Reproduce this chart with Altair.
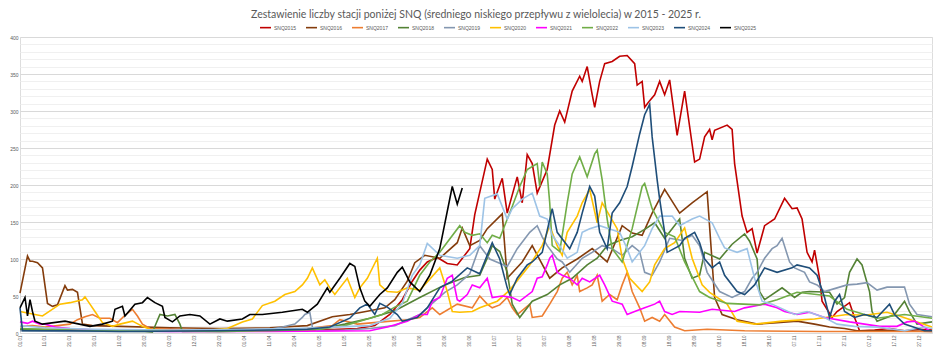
import altair as alt
import pandas as pd

series_names = ["SNQ2015", "SNQ2016", "SNQ2017", "SNQ2018", "SNQ2019", "SNQ2020",
                "SNQ2021", "SNQ2022", "SNQ2023", "SNQ2024", "SNQ2025"]
series_colors = ["#C00000", "#843C0C", "#ED7D31", "#548235", "#8497B0", "#FFC000",
                 "#FF00FF", "#70AD47", "#9DC3E6", "#1F4E79", "#000000"]

# (day of year, number of stations)
s2015 = [(0,4),(15,5),(30,3),(45,4),(60,5),(75,3),(90,4),(105,5),(120,4),(135,6),(142,10),(148,25),(153,45),(157,70),(160,85),(163,96),(167,102),(171,94),(175,92),(180,114),(182,160),(184,190),(187,235),(189,221),(190,181),(193,209),(195,162),(199,211),(201,176),(203,241),(205,229),(207,189),(211,221),(214,281),(216,300),(218,285),(221,327),(224,347),(225,340),(227,360),(229,322),(230,305),(232,340),(234,364),(237,367),(240,374),(243,375),(246,364),(247,335),(249,340),(250,305),(252,314),(254,322),(256,340),(258,322),(260,342),(263,267),(266,327),(270,231),(272,235),(274,265),(276,275),(277,261),(278,274),(283,281),(285,275),(286,229),(289,158),(291,136),(293,141),(295,108),(298,145),(302,154),(306,182),(309,168),(311,169),(313,154),(315,109),(317,96),(318,112),(320,74),(321,43),(325,21),(327,29),(332,41),(334,21),(336,3),(342,4),(348,6),(354,3),(360,5),(365,4)]
s2016 = [(0,54),(3,104),(4,97),(5,97),(7,95),(9,88),(11,40),(13,36),(15,38),(18,64),(19,58),(21,59),(23,55),(25,12),(29,10),(40,9),(60,7),(80,6),(100,7),(115,10),(125,22),(132,25),(140,30),(146,34),(150,45),(155,70),(158,95),(162,105),(168,101),(175,122),(177,142),(180,118),(184,125),(187,141),(193,161),(195,74),(201,96),(205,118),(212,74),(217,88),(223,100),(229,114),(235,96),(241,145),(245,135),(249,132),(253,162),(258,194),(264,162),(269,176),(275,191),(278,48),(281,25),(287,18),(295,12),(303,14),(311,16),(318,12),(324,8),(330,6),(335,3),(350,3),(365,2)]
s2017 = [(0,9),(5,10),(10,8),(15,10),(20,12),(23,18),(26,22),(29,25),(32,20),(36,20),(39,14),(42,24),(45,32),(47,23),(49,12),(52,6),(60,5),(80,4),(100,5),(115,6),(125,10),(128,18),(135,12),(145,15),(155,18),(160,21),(165,34),(168,25),(175,39),(181,34),(184,50),(187,39),(189,34),(192,38),(195,48),(197,34),(199,25),(204,39),(205,21),(209,23),(212,39),(215,56),(217,74),(219,82),(221,65),(223,78),(224,56),(227,61),(229,65),(231,78),(233,43),(236,52),(239,45),(241,65),(243,82),(245,56),(248,34),(250,16),(253,21),(256,16),(258,25),(262,8),(266,3),(275,5),(290,3),(320,2),(365,2)]
s2018 = [(0,5),(15,4),(30,3),(50,2),(53,1),(56,25),(59,23),(62,25),(64,12),(65,2),(80,2),(100,3),(120,5),(130,12),(140,20),(150,30),(160,48),(170,65),(178,75),(184,78),(187,101),(189,118),(192,110),(195,82),(197,39),(200,21),(205,43),(211,52),(216,65),(221,74),(227,92),(231,101),(235,118),(240,125),(245,130),(250,140),(254,149),(258,128),(261,141),(264,154),(266,101),(269,74),(272,78),(274,109),(280,100),(285,120),(290,134),(292,124),(295,100),(296,56),(298,45),(305,61),(310,48),(313,55),(316,56),(324,55),(327,39),(330,48),(332,82),(335,100),(337,92),(340,56),(341,29),(343,16),(350,25),(354,43),(356,29),(359,12),(365,15)]
s2019 = [(0,3),(20,2),(60,2),(90,3),(100,5),(105,8),(110,12),(113,21),(114,25),(116,28),(117,8),(119,3),(130,4),(140,6),(150,10),(160,25),(165,40),(170,55),(175,65),(180,80),(184,118),(188,100),(195,90),(199,114),(204,136),(207,145),(209,130),(211,118),(215,100),(217,96),(220,82),(225,101),(229,109),(233,118),(237,114),(241,105),(245,118),(248,110),(250,82),(253,78),(256,96),(260,128),(265,125),(269,132),(272,118),(275,82),(280,56),(285,48),(290,56),(293,74),(295,82),(298,101),(301,114),(303,118),(305,128),(308,96),(310,88),(314,82),(316,69),(319,65),(322,56),(327,61),(331,65),(335,66),(339,68),(343,58),(347,62),(354,62),(356,39),(359,25),(363,23),(365,22)]
s2020 = [(0,29),(6,25),(9,23),(16,39),(20,41),(25,45),(26,49),(28,39),(30,29),(33,14),(37,9),(40,12),(45,16),(49,9),(52,5),(61,3),(73,3),(83,6),(89,15),(93,19),(97,37),(102,43),(106,52),(110,56),(113,65),(115,74),(117,88),(120,65),(122,72),(124,61),(126,52),(128,61),(131,74),(134,48),(136,61),(139,74),(143,101),(144,65),(147,56),(151,55),(155,61),(160,58),(163,69),(168,88),(171,56),(173,29),(176,28),(181,29),(184,34),(191,43),(196,58),(204,92),(209,118),(212,145),(215,118),(217,105),(219,136),(223,158),(225,176),(228,194),(231,149),(233,176),(239,141),(241,101),(244,74),(249,56),(252,69),(254,92),(258,114),(262,122),(266,142),(269,101),(273,65),(276,55),(283,39),(287,16),(294,12),(305,16),(318,19),(331,25),(338,24),(347,28),(352,23),(359,15),(365,8)]
s2021 = [(0,15),(3,13),(5,16),(8,12),(10,12),(14,8),(20,6),(30,4),(40,3),(60,2),(100,2),(140,3),(147,8),(155,16),(160,25),(163,25),(165,43),(168,48),(171,74),(173,78),(175,45),(176,43),(179,52),(181,65),(184,61),(187,74),(189,48),(193,50),(197,48),(200,43),(205,56),(207,74),(209,76),(211,92),(212,101),(213,105),(215,82),(217,78),(220,74),(223,65),(225,74),(228,69),(232,78),(234,65),(237,43),(241,39),(243,25),(246,29),(250,34),(254,39),(256,43),(258,29),(261,25),(264,29),(272,28),(277,32),(286,29),(290,34),(298,39),(303,34),(306,29),(311,25),(316,28),(322,21),(332,15),(338,12),(344,9),(351,9),(355,15),(358,16),(361,10),(364,3)]
s2022 = [(0,6),(20,4),(40,3),(60,3),(80,2),(100,3),(120,5),(130,10),(140,20),(145,25),(150,35),(155,43),(160,78),(164,96),(168,109),(176,145),(178,136),(181,132),(184,134),(187,122),(189,132),(192,128),(197,171),(200,198),(203,221),(207,229),(208,198),(209,231),(211,215),(212,176),(213,118),(216,110),(219,176),(221,215),(224,238),(227,211),(230,242),(231,247),(233,207),(235,154),(237,114),(241,96),(245,141),(249,198),(250,202),(253,168),(258,136),(262,130),(266,96),(272,56),(276,48),(283,40),(296,38),(303,45),(311,55),(324,50),(331,32),(343,20),(354,25),(365,20)]
s2023 = [(0,10),(10,7),(30,5),(60,4),(90,5),(110,6),(125,8),(140,10),(148,20),(153,40),(157,78),(160,92),(163,121),(168,105),(175,101),(180,105),(184,118),(186,182),(191,188),(195,154),(197,168),(201,181),(205,189),(208,158),(211,154),(213,132),(216,118),(219,101),(223,109),(225,136),(228,141),(232,145),(240,136),(243,114),(245,96),(250,118),(253,141),(256,158),(261,158),(264,145),(269,154),(272,158),(277,149),(280,128),(282,115),(287,109),(291,114),(294,74),(297,43),(301,39),(310,25),(315,29),(322,21),(327,12),(334,9),(343,8),(354,3),(362,8),(365,6)]
s2024 = [(0,34),(1,3),(20,3),(40,2),(80,3),(100,4),(115,5),(124,8),(132,20),(136,34),(139,39),(142,25),(144,40),(147,35),(151,25),(153,16),(159,21),(163,34),(168,61),(173,70),(179,88),(184,80),(189,122),(192,100),(195,61),(196,52),(199,74),(203,92),(205,96),(209,109),(213,168),(215,136),(220,114),(223,136),(225,162),(228,198),(230,185),(232,136),(235,114),(237,162),(240,176),(243,198),(245,225),(248,269),(250,295),(252,309),(253,265),(255,207),(256,181),(258,136),(259,109),(264,118),(266,128),(270,136),(272,122),(274,100),(277,88),(280,96),(282,78),(287,56),(290,52),(294,65),(298,88),(303,82),(309,88),(311,92),(316,88),(319,78),(322,48),(324,21),(326,43),(328,52),(330,29),(334,21),(338,25),(343,21),(348,39),(350,25),(354,12),(362,3),(365,3)]
s2025 = [(0,34),(2,48),(3,23),(4,45),(5,29),(6,16),(9,12),(18,16),(28,9),(33,12),(37,16),(38,32),(41,36),(42,23),(46,39),(49,41),(51,48),(54,41),(57,36),(58,21),(61,15),(64,23),(68,25),(72,23),(76,12),(80,19),(83,16),(89,19),(92,25),(97,25),(105,28),(113,32),(115,28),(119,39),(123,61),(124,55),(128,74),(132,94),(134,90),(136,61),(138,43),(140,36),(144,52),(147,61),(151,82),(153,89),(156,69),(160,56),(164,78),(168,114),(173,198),(175,174),(177,196)]

all_series = [s2015, s2016, s2017, s2018, s2019, s2020, s2021, s2022, s2023, s2024, s2025]

x_ticks = list(range(0, 366, 10))
y_ticks = list(range(0, 401, 10))
title_text = "Zestawienie liczby stacji poniżej SNQ (średniego niskiego przepływu z wielolecia) w 2015 - 2025 r."

rows = []
for name, pts in zip(series_names, all_series):
    for d, v in pts:
        rows.append({"day": d, "value": v, "series": name})
df = pd.DataFrame(rows)

chart = alt.Chart(df).mark_line(interpolate="linear").encode(
    x=alt.X("day:Q",
            scale=alt.Scale(domain=[0, 365], nice=False, zero=False),
            axis=alt.Axis(values=x_ticks,
                          labelExpr="timeFormat(datetime(2025, 0, 1 + datum.value), '%d.%m')",
                          labelAngle=-90, labelFontSize=4.5, labelColor="#595959",
                          labelPadding=2, grid=False, domain=False, ticks=False,
                          labelOverlap=False, labelBound=False,
                          title=None, labelFont="Liberation Sans")),
    y=alt.Y("value:Q",
            scale=alt.Scale(domain=[0, 400], nice=False),
            axis=alt.Axis(values=y_ticks,
                          labelExpr="datum.value % 50 === 0 ? datum.label : ''",
                          gridColor={"condition": {"test": "datum.value % 50 === 0", "value": "#d9d9d9"}, "value": "#f0f0f0"},
                          gridWidth=1, labelFontSize=5, labelColor="#595959",
                          labelPadding=2, domain=False, ticks=False, title=None,
                          labelFont="Liberation Sans")),
    color=alt.Color("series:N",
                    scale=alt.Scale(domain=series_names, range=series_colors),
                    legend=alt.Legend(orient="none", legendX=239, legendY=-16,
                                      direction="horizontal", columns=11, title=None,
                                      symbolType="stroke", symbolSize=121,
                                      symbolStrokeWidth=2, labelFontSize=5,
                                      labelColor="#595959", labelFont="Liberation Sans",
                                      columnPadding=6, labelOffset=2)),
    strokeWidth=alt.StrokeWidth("series:N",
                                scale=alt.Scale(domain=series_names, range=[1.6] * 10 + [2.2]),
                                legend=None),
).properties(
    width=912,
    height=296,
    title=alt.TitleParams(title_text, fontSize=10.5, font="Lato", color="#595959",
                          fontWeight="normal", anchor="middle", offset=1),
    autosize=alt.AutoSizeParams(type="none"),
    padding={"left": 12, "top": 29, "right": 1, "bottom": 15},
).configure_view(stroke=None).configure(background="white")

chart.save("out.html", embed_options={"renderer": "svg", "actions": False})
